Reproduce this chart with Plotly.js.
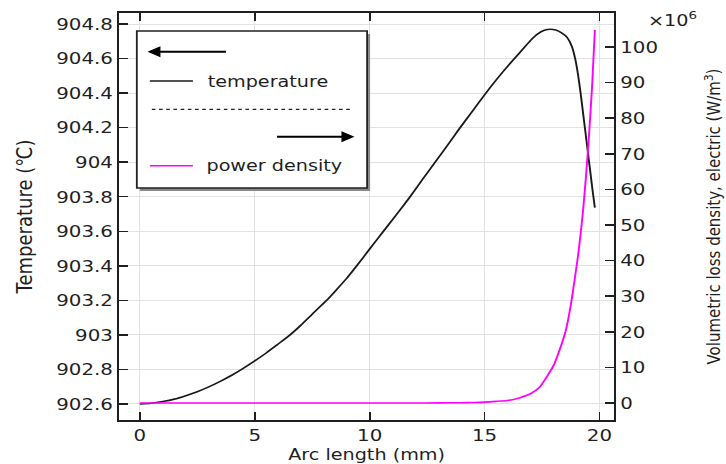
<!DOCTYPE html>
<html><head><meta charset="utf-8">
<script src="https://cdn.plot.ly/plotly-3.0.1.min.js"></script>
<style>
html,body{margin:0;padding:0;overflow:hidden;background:#fff}
#wrap{width:726px;height:464px;overflow:hidden}
#chart{width:605px;height:464px;transform:scaleX(1.2);transform-origin:0 0}
</style>
</head><body><div id="wrap"><div id="chart"></div></div>
<script>
// Temperature along arc length (mm, degC)
const arcT = [0, 0.5, 1, 1.5, 2, 2.5, 3, 3.5, 4, 4.43, 5, 5.5, 6, 6.54, 7, 7.5, 8.13, 8.5, 9, 9.44, 10, 10.6, 11.2, 11.76, 12.3, 12.85, 13.4, 13.87, 14.5, 15, 15.5, 16, 16.5, 17, 17.3, 17.6, 17.86, 18.1, 18.35, 18.59, 18.8, 18.95, 19.07, 19.17, 19.3, 19.43, 19.58, 19.71, 19.8];
const temperature = [902.600, 902.604, 902.614, 902.628, 902.648, 902.671, 902.699, 902.731, 902.766, 902.800, 902.849, 902.895, 902.945, 903.000, 903.055, 903.120, 903.200, 903.253, 903.327, 903.400, 903.497, 903.600, 903.702, 903.800, 903.900, 904.000, 904.100, 904.188, 904.300, 904.390, 904.475, 904.555, 904.630, 904.705, 904.742, 904.764, 904.770, 904.765, 904.749, 904.723, 904.670, 904.595, 904.505, 904.410, 904.270, 904.130, 903.967, 903.826, 903.737];
// Volumetric loss density, electric (x10^6 W/m^3)
const arcP = [0, 5, 10, 12, 13, 14, 14.5, 15, 15.5, 16, 16.27, 16.5, 17, 17.4, 17.72, 18.0, 18.16, 18.35, 18.52, 18.74, 18.95, 19.1, 19.3, 19.5, 19.68, 19.8];
const powerDensity = [0, 0, 0, 0.01, 0.03, 0.08, 0.14, 0.25, 0.45, 0.7, 1.0, 1.4, 2.6, 4.5, 7.5, 10.5, 13, 16.5, 20, 27, 36, 43, 55, 71, 89, 104.8];
const xTicks = [0, 5, 10, 15, 20];
const leftTicks = [902.6, 902.8, 903, 903.2, 903.4, 903.6, 903.8, 904, 904.2, 904.4, 904.6, 904.8];
const rightTicks = [0, 10, 20, 30, 40, 50, 60, 70, 80, 90, 100];

const FONT = 'DejaVu Sans';
const INK = '#1f1f1f';
// reference-pixel -> paper helpers (plot area 119..614 x, 13..420 y)
const fx = X => (X - 119) / 495;
const fy = Y => (420 - Y) / 407;

const traces = [
  {x: arcT, y: temperature, type: 'scatter', mode: 'lines', name: 'temperature',
   line: {color: '#1a1a1a', width: 1.6, shape: 'spline', smoothing: 0.6}, yaxis: 'y', showlegend: false},
  {x: arcP, y: powerDensity, type: 'scatter', mode: 'lines', name: 'power density',
   line: {color: '#ff00ff', width: 1.6, shape: 'spline', smoothing: 0.8}, yaxis: 'y2', showlegend: false}
];

const shapes = [
  // legend shadow and box
  {type: 'rect', xref: 'paper', yref: 'paper', x0: fx(140), x1: fx(370), y0: fy(191), y1: fy(34),
   fillcolor: '#8a8a8a', line: {width: 0}, layer: 'above'},
  {type: 'rect', xref: 'paper', yref: 'paper', x0: fx(137), x1: fx(367), y0: fy(188), y1: fy(31),
   fillcolor: '#ffffff', line: {color: '#222', width: 1.5}, layer: 'above'},
  // left arrow
  {type: 'line', xref: 'paper', yref: 'paper', x0: fx(158), x1: fx(226), y0: fy(51.7), y1: fy(51.7),
   line: {color: '#000', width: 2}, layer: 'above'},
  {type: 'path', xref: 'paper', yref: 'paper',
   path: `M ${fx(149)} ${fy(51.7)} L ${fx(160)} ${fy(47)} L ${fx(160)} ${fy(56.4)} Z`,
   fillcolor: '#000', line: {color: '#000', width: 1}, layer: 'above'},
  // temperature sample line
  {type: 'line', xref: 'paper', yref: 'paper', x0: fx(150), x1: fx(193), y0: fy(81), y1: fy(81),
   line: {color: '#1a1a1a', width: 1.5}, layer: 'above'},
  // dotted separator
  {type: 'line', xref: 'paper', yref: 'paper', x0: fx(152), x1: fx(353), y0: fy(109.3), y1: fy(109.3),
   line: {color: '#222', width: 1.2, dash: 'dot'}, layer: 'above'},
  // right arrow
  {type: 'line', xref: 'paper', yref: 'paper', x0: fx(277), x1: fx(343), y0: fy(136.7), y1: fy(136.7),
   line: {color: '#000', width: 2}, layer: 'above'},
  {type: 'path', xref: 'paper', yref: 'paper',
   path: `M ${fx(353)} ${fy(136.7)} L ${fx(342)} ${fy(132)} L ${fx(342)} ${fy(141.4)} Z`,
   fillcolor: '#000', line: {color: '#000', width: 1}, layer: 'above'},
  // power density sample line
  {type: 'line', xref: 'paper', yref: 'paper', x0: fx(150), x1: fx(193), y0: fy(165.7), y1: fy(165.7),
   line: {color: '#ff00ff', width: 1.5}, layer: 'above'}
];

const annotations = [
  {xref: 'paper', yref: 'paper', x: fx(205), y: fy(81), xanchor: 'left', yanchor: 'middle',
   text: 'temperature', showarrow: false, font: {family: FONT, size: 16, color: INK}},
  {xref: 'paper', yref: 'paper', x: fx(204), y: fy(165.7), xanchor: 'left', yanchor: 'middle',
   text: 'power density', showarrow: false, font: {family: FONT, size: 16, color: INK}},
  {xref: 'paper', yref: 'paper', x: fx(645), y: fy(20), xanchor: 'left', yanchor: 'middle',
   text: '×10<sup>6</sup>', showarrow: false, font: {family: FONT, size: 16, color: INK}}
];

const axisCommon = {
  ticks: 'inside', ticklen: 8, tickwidth: 1.5, tickcolor: INK,
  showline: true, linecolor: INK, linewidth: 1.6, zeroline: false,
  tickfont: {family: FONT, size: 16.5, color: INK}
};

const layout = {
  width: 605, height: 464,
  margin: {l: 99.17, r: 93.33, t: 13, b: 44},
  paper_bgcolor: '#fff', plot_bgcolor: '#fff',
  font: {family: FONT, color: INK},
  showlegend: false,
  xaxis: Object.assign({}, axisCommon, {
    range: [-0.915, 20.65], tickmode: 'array', tickvals: xTicks, mirror: 'ticks',
    showgrid: true, gridcolor: '#e2e2e2', gridwidth: 1,
    title: {text: 'Arc length (mm)', font: {family: FONT, size: 16, color: INK}, standoff: 0}
  }),
  yaxis: Object.assign({}, axisCommon, {
    range: [902.507, 904.864], tickmode: 'array', tickvals: leftTicks,
    showgrid: true, gridcolor: '#e2e2e2', gridwidth: 1,
    title: {text: 'Temperature (℃)', font: {family: FONT, size: 18, color: INK}, standoff: 15}
  }),
  yaxis2: Object.assign({}, axisCommon, {
    overlaying: 'y', side: 'right',
    range: [-4.78, 109.55], tickmode: 'array', tickvals: rightTicks,
    showgrid: false,
    title: {text: 'Volumetric loss density, electric (W/m<sup>3</sup>)', font: {family: FONT, size: 15, color: INK}, standoff: 42}
  }),
  shapes: shapes,
  annotations: annotations
};

Plotly.newPlot('chart', traces, layout, {displayModeBar: false, staticPlot: true});
</script>
</body></html>
